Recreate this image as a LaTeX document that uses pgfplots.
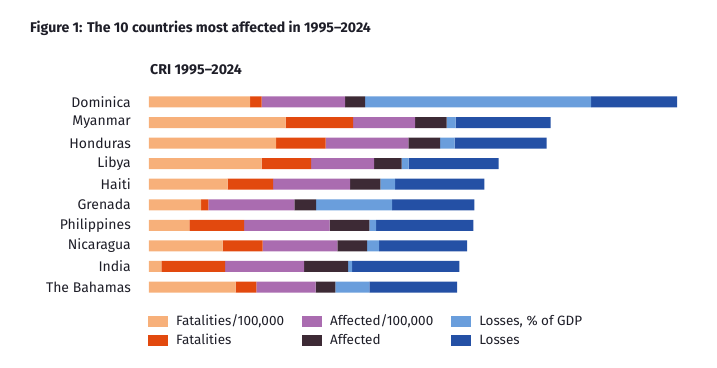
\documentclass[border=0pt]{standalone}
\usepackage{fontspec}
\setmainfont{Fira Sans}
\usepackage{pgfplots}
\usepackage{pgfplotstable}
\pgfplotsset{compat=1.18}
\definecolor{cFP}{RGB}{247,176,122}
\definecolor{cF}{RGB}{226,73,14}
\definecolor{cAP}{RGB}{170,108,176}
\definecolor{cA}{RGB}{61,42,53}
\definecolor{cLG}{RGB}{106,158,220}
\definecolor{cL}{RGB}{36,80,165}
\definecolor{txt}{RGB}{30,30,40}
\pgfplotstableread{
idx fp f ap a lg l
0 101 11.7 83.3 20 226 86
1 136.7 67.3 62 31.7 9 95
2 127 49.7 82.6 31.7 14.7 92
3 112.7 49.3 63 27.7 7 90
4 78.7 45.3 77 30.3 14.7 89.3
5 52 7.3 86 21.7 76 82.3
6 40.3 54.7 85.7 39.6 6.7 97.3
7 73.7 40 74.6 29.7 12 88
8 12.3 63.7 79 44 4 107.3
9 86.7 20.6 59.4 19.6 34 87.7
}\data
\begin{document}
\begin{tikzpicture}
\path[use as bounding box] (0,0) rectangle (717pt,367pt);
\node[anchor=west, inner sep=0pt, font=\bfseries\fontsize{14.1}{16}\selectfont, text=txt] at (30pt,339pt) {Figure 1: The 10 countries most affected in 1995–2024};
\node[anchor=west, inner sep=0pt, font=\bfseries\fontsize{14.2}{16}\selectfont, text=txt] at (150pt,297pt) {CRI 1995–2024};
\begin{axis}[
  at={(149pt,69.7pt)}, anchor=south west,
  scale only axis, width=540pt, height=205.6pt,
  xmin=0, xmax=540, ymin=-0.5, ymax=9.5,
  y dir=reverse,
  xbar stacked, bar width=11pt,
  axis line style={draw=none},
  major tick length=0pt,
  xtick=\empty,
  ytick={0,...,9},
  yticklabels={Dominica,Myanmar,Honduras,Libya,Haiti,Grenada,Philippines,Nicaragua,India,The Bahamas},
  yticklabel style={font=\fontsize{14}{16}\selectfont, text=txt, inner sep=0pt, xshift=-18pt},
  every axis plot/.append style={draw=none},
  area legend,
  legend image code/.code={\fill[#1] (0pt,-5.5pt) rectangle (20pt,5.5pt);},
  legend columns=2,
  transpose legend,
  legend cell align=left,
  legend style={at={(0,0)}, anchor=north west, xshift=-1pt, yshift=-18pt,
    draw=none, fill=none, inner sep=0pt,
    font=\fontsize{13.5}{15}\selectfont, text=txt,
    nodes={inner sep=0pt, text height=9.5pt, text depth=2.5pt},
    row sep=7pt,
    /tikz/every odd column/.append style={column sep=8pt},
    /tikz/every even column/.append style={column sep=18pt}},
]
\addplot[fill=cFP] table[x=fp, y=idx] \data;
\addplot[fill=cF] table[x=f, y=idx] \data;
\addplot[fill=cAP] table[x=ap, y=idx] \data;
\addplot[fill=cA] table[x=a, y=idx] \data;
\addplot[fill=cLG] table[x=lg, y=idx] \data;
\addplot[fill=cL] table[x=l, y=idx] \data;
\legend{Fatalities/100{,}000, Fatalities, Affected/100{,}000, Affected, {Losses, \% of GDP}, Losses}
\end{axis}
\end{tikzpicture}
\end{document}
